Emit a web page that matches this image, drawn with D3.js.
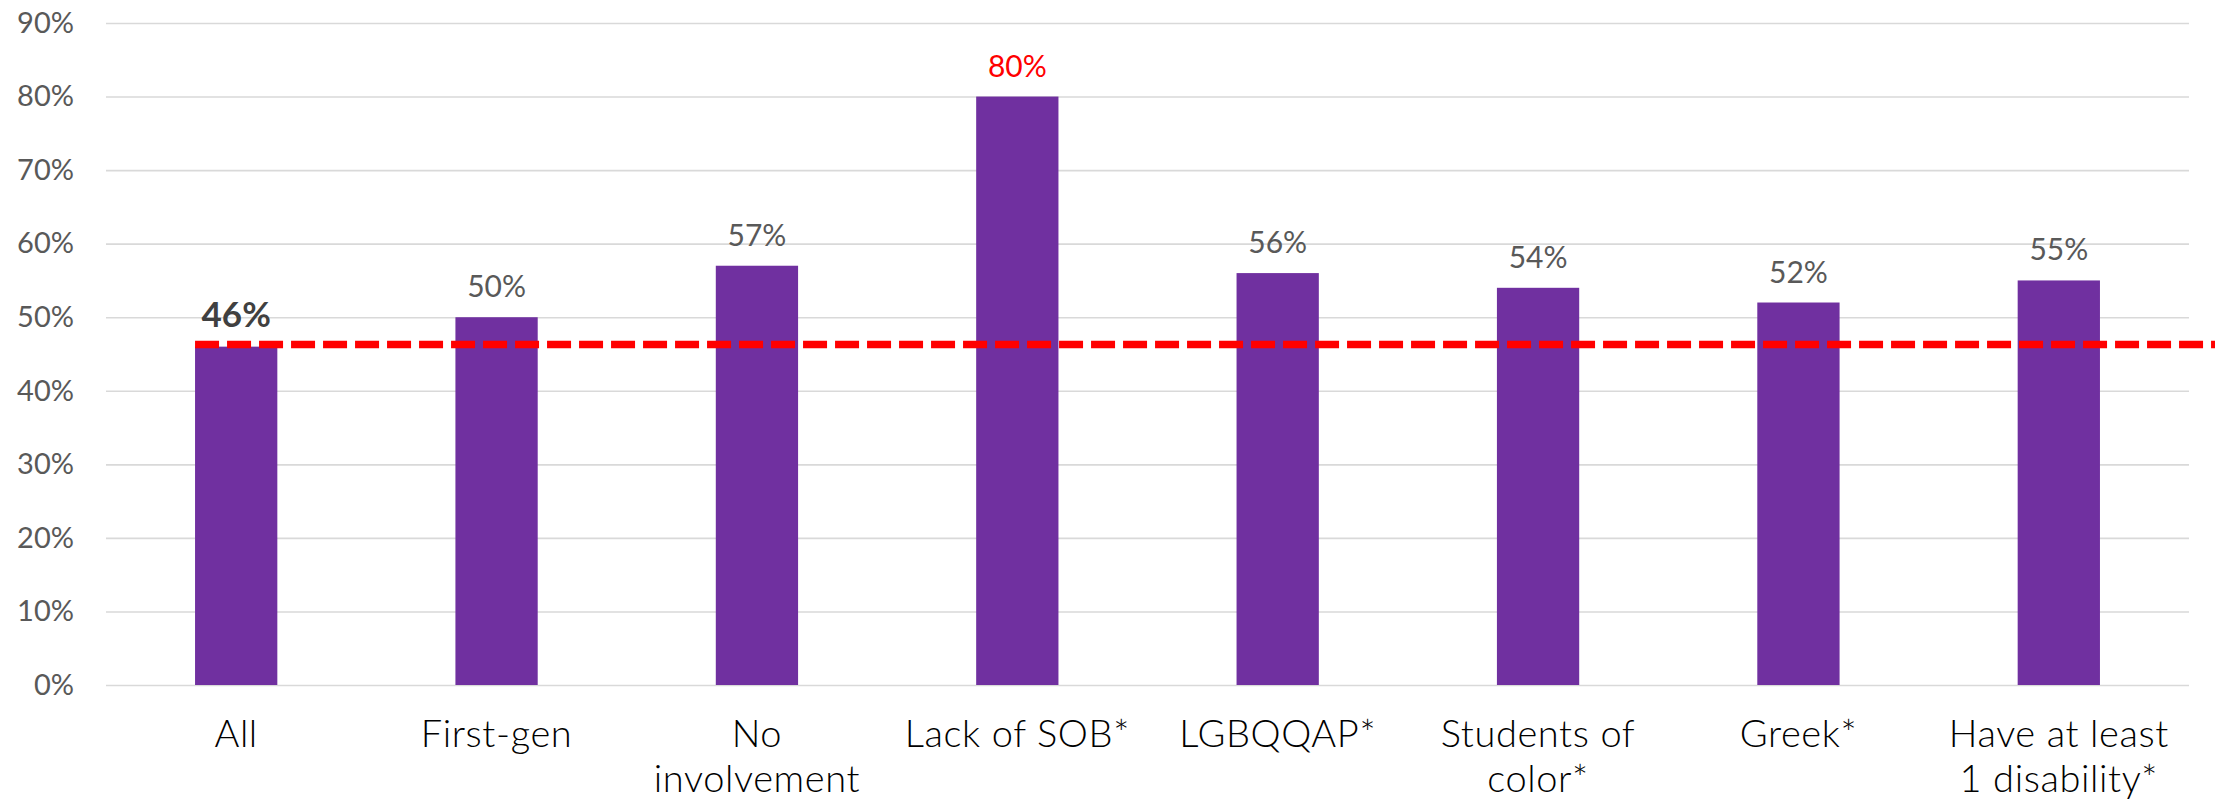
<!DOCTYPE html>
<html>
<head>
<meta charset="utf-8">
<script src="https://cdn.jsdelivr.net/npm/d3@7"></script>
<style>
  body { margin: 0; background: #fff; }
  svg { display: block; }
  text { font-family: Lato, "Open Sans", sans-serif; }
</style>
</head>
<body>
<div id="chart"></div>
<script>
// categories, with line breaks where the reference wraps them
var categories = ["All", "First-gen", "No\ninvolvement", "Lack of SOB*", "LGBQQAP*",
                  "Students of\ncolor*", "Greek*", "Have at least\n1 disability*"];
var values = [46, 50, 57, 80, 56, 54, 52, 55];
var yTicks = [0, 10, 20, 30, 40, 50, 60, 70, 80, 90];
var averageLine = 46.3; // red dashed reference line (overall share)

var margin = {top: 23, right: 40, bottom: 116, left: 106},
    width = 2229 - margin.left - margin.right,
    height = 801 - margin.top - margin.bottom;

var x = d3.scaleBand()
  .domain(categories)
  .range([0, 2083])
  .paddingInner(0.684)
  .paddingOuter(0.342);

var y = d3.scaleLinear()
  .domain([0, 90])
  .range([height, 0]);

var svg = d3.select("#chart").append("svg")
  .attr("width", 2229)
  .attr("height", 801)
  .append("g")
  .attr("transform", "translate(" + margin.left + "," + margin.top + ")");

// gridlines + y labels
var yAxis = svg.append("g")
  .call(d3.axisLeft(y).tickValues(yTicks).tickSize(-2083).tickPadding(32)
    .tickFormat(function(d) { return d + "%"; }));
yAxis.select(".domain").remove();
yAxis.selectAll(".tick line").attr("stroke", "#d9d9d9").attr("stroke-width", 1.6);
yAxis.selectAll(".tick text")
  .attr("fill", "#595959")
  .style("font-size", "29px");

// bars
svg.selectAll(".bar")
  .data(values)
  .enter().append("rect")
  .attr("class", "bar")
  .attr("x", function(d, i) { return x(categories[i]); })
  .attr("width", x.bandwidth())
  .attr("y", function(d) { return y(d); })
  .attr("height", function(d) { return height - y(d); })
  .attr("fill", "#7030a0");

// value labels
svg.selectAll(".val")
  .data(values)
  .enter().append("text")
  .attr("class", "val")
  .attr("x", function(d, i) { return x(categories[i]) + x.bandwidth() / 2; })
  .attr("y", function(d) { return y(d) - 20; })
  .attr("text-anchor", "middle")
  .style("font-size", function(d, i) { return i === 0 ? "35px" : "30px"; })
  .style("font-weight", function(d, i) { return i === 0 ? "bold" : "normal"; })
  .attr("fill", function(d, i) { return i === 0 ? "#404040" : (d === d3.max(values) ? "#ff0000" : "#595959"); })
  .text(function(d) { return d + "%"; });

// dashed average line
svg.append("line")
  .attr("x1", x(categories[0]))
  .attr("x2", 2109)
  .attr("y1", y(averageLine))
  .attr("y2", y(averageLine))
  .attr("stroke", "#ff0000")
  .attr("stroke-width", 7.5)
  .attr("stroke-dasharray", "24,8");

// category labels
var labels = svg.selectAll(".cat")
  .data(categories)
  .enter().append("text")
  .attr("class", "cat")
  .attr("text-anchor", "middle")
  .attr("fill", "#000")
  .style("font-size", "38px")
  .style("font-weight", 300)
  .style("letter-spacing", "0.6px")
  .attr("transform", function(d) { return "translate(" + (x(d) + x.bandwidth() / 2) + "," + (height + 62) + ")"; });

labels.selectAll("tspan")
  .data(function(d) { return d.split("\n"); })
  .enter().append("tspan")
  .attr("x", 0)
  .attr("dy", function(d, i) { return i === 0 ? 0 : 45; })
  .text(function(d) { return d; });
</script>
</body>
</html>
